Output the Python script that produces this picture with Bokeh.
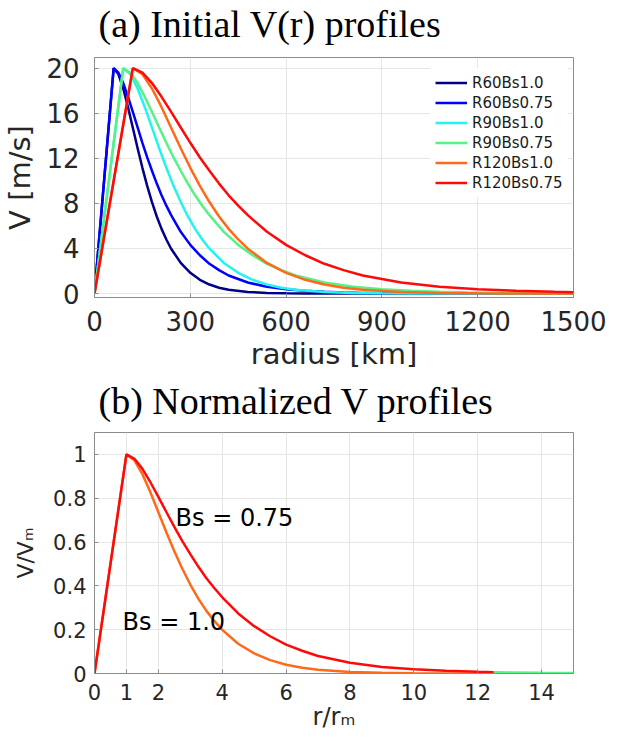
from bokeh.plotting import figure
from bokeh.models import Label, Range1d, FixedTicker, Title
from bokeh.layouts import column
from bokeh.embed import file_html
from bokeh.resources import INLINE

# ---------------- data ----------------
# panel (a): radius [km] and V [m/s]
r60 = [0, 60, 75, 90, 105, 120, 135, 150, 165, 180, 195, 210, 225, 240, 270,
       300, 330, 360, 390, 420, 480, 540, 600, 660, 720, 780, 840, 900, 1200, 1500]
v_r60_bs10 = [0, 20, 19.46, 18.2, 16.54, 14.72, 12.9, 11.16, 9.56, 8.12, 6.84, 5.74, 4.8, 3.98, 2.72,
              1.84, 1.22, 0.8, 0.52, 0.34, 0.14, 0.06, 0.02, 0.01, 0.004, 0.002, 0.001, 0, 0, 0]
v_r60_bs075 = [0, 20, 19.6, 18.68, 17.46, 16.12, 14.74, 13.38, 12.08, 10.9, 9.76, 8.72, 7.8, 6.96, 5.48,
               4.32, 3.4, 2.64, 2.08, 1.6, 0.98, 0.6, 0.38, 0.24, 0.15, 0.1, 0.06, 0.04, 0.005, 0]
r90 = [0, 90, 112.5, 135, 157.5, 180, 202.5, 225, 247.5, 270, 292.5, 315, 337.5, 360, 405,
       450, 495, 540, 585, 630, 720, 810, 900, 990, 1080, 1170, 1260, 1350, 1500]
v_r90_bs10 = [0, 20, 19.46, 18.2, 16.54, 14.72, 12.9, 11.16, 9.56, 8.12, 6.84, 5.74, 4.8, 3.98, 2.72,
              1.84, 1.22, 0.8, 0.52, 0.34, 0.14, 0.06, 0.02, 0.01, 0.004, 0.002, 0.001, 0, 0]
v_r90_bs075 = [0, 20, 19.6, 18.68, 17.46, 16.12, 14.74, 13.38, 12.08, 10.9, 9.76, 8.72, 7.8, 6.96, 5.48,
               4.32, 3.4, 2.64, 2.08, 1.6, 0.98, 0.6, 0.38, 0.24, 0.15, 0.1, 0.06, 0.04, 0.025]
r120 = [0, 120, 150, 180, 210, 240, 270, 300, 330, 360, 390, 420, 450, 480, 540,
        600, 660, 720, 780, 840, 960, 1080, 1200, 1320, 1440, 1500]
v_r120_bs10 = [0, 20, 19.46, 18.2, 16.54, 14.72, 12.9, 11.16, 9.56, 8.12, 6.84, 5.74, 4.8, 3.98, 2.72,
               1.84, 1.22, 0.8, 0.52, 0.34, 0.14, 0.06, 0.02, 0.01, 0.004, 0.003]
v_r120_bs075 = [0, 20, 19.6, 18.68, 17.46, 16.12, 14.74, 13.38, 12.08, 10.9, 9.76, 8.72, 7.8, 6.96, 5.48,
                4.32, 3.4, 2.64, 2.08, 1.6, 0.98, 0.6, 0.38, 0.24, 0.15, 0.12]

series_names = ["R60Bs1.0", "R60Bs0.75", "R90Bs1.0", "R90Bs0.75", "R120Bs1.0", "R120Bs0.75"]
series_colors = ["#000088", "#0000FF", "#22F4F0", "#55F285", "#FF6A1A", "#FF0A0A"]

# panel (b): r/rm and V/Vm
bx = [0, 1, 1.25, 1.5, 1.75, 2, 2.25, 2.5, 2.75, 3, 3.25, 3.5, 3.75, 4, 4.5,
      5, 5.5, 6, 6.5, 7, 8, 9, 10, 11, 12, 12.5]
b_bs10 = [0, 1, 0.973, 0.91, 0.827, 0.736, 0.645, 0.558, 0.478, 0.406, 0.342, 0.287, 0.24, 0.199, 0.136,
          0.092, 0.061, 0.04, 0.026, 0.017, 0.007, 0.003, 0.001, 0.0005, 0.0002, 0.0001]
b_bs075 = [0, 1, 0.98, 0.934, 0.873, 0.806, 0.737, 0.669, 0.604, 0.545, 0.488, 0.436, 0.39, 0.348, 0.274,
           0.216, 0.17, 0.132, 0.104, 0.08, 0.049, 0.03, 0.019, 0.012, 0.0075, 0.006]
bx_tail = [12.5, 13, 14, 15]
b_tail_bs10 = [0.0001, 0.0001, 0, 0]
b_tail_bs075 = [0.006, 0.005, 0.003, 0.002]

a_xticks = [0, 300, 600, 900, 1200, 1500]
a_yticks = [0, 4, 8, 12, 16, 20]
b_xticks = [0, 1, 2, 4, 6, 8, 10, 12, 14]
b_yticks = [0, 0.2, 0.4, 0.6, 0.8, 1]
b_ylabels = {0: "0", 0.2: "0.2", 0.4: "0.4", 0.6: "0.6", 0.8: "0.8", 1: "1"}

SANS = "DejaVu Sans"
SERIF = "Liberation Serif"
FRAME = "#8C8C8C"
GRID = "#E6E6E6"
TXT = "#262626"


def style(p, tick_font, standoff_x, standoff_y, gap):
    p.background_fill_color = "white"
    p.border_fill_color = "white"
    p.outline_line_color = FRAME
    p.outline_line_width = 1
    for ax in p.axis:
        ax.axis_line_color = FRAME
        ax.major_tick_line_color = FRAME
        ax.major_tick_in = 4
        ax.major_tick_out = 0
        ax.minor_tick_line_color = None
        ax.major_label_text_font = SANS
        ax.major_label_text_font_size = tick_font
        ax.major_label_text_color = TXT
        ax.axis_label_text_font = SANS
        ax.axis_label_text_font_style = "normal"
        ax.axis_label_text_color = TXT
    p.xaxis.major_label_standoff = standoff_x
    p.yaxis.major_label_standoff = standoff_y
    p.grid.grid_line_color = GRID
    p.grid.grid_line_width = 1
    p.title.text_font = SERIF
    p.title.text_font_size = "38px"
    p.title.text_font_style = "normal"
    p.title.text_color = "black"
    p.title.align = "left"
    p.title.offset = 4
    p.title.standoff = 0
    # empty spacer between the frame and the title
    p.add_layout(Title(text=" ", text_font_size="1px", standoff=gap), "above")


# ---------------- panel (a) ----------------
pa = figure(width=616, height=377, x_range=Range1d(0, 1500), y_range=Range1d(-0.35, 20.95),
            title="(a) Initial V(r) profiles",
            output_backend="svg", toolbar_location=None,
            min_border_left=85, min_border_right=43, min_border_top=56, min_border_bottom=80)
style(pa, "26px", 13, 15, 10)
pa.xaxis.ticker = FixedTicker(ticks=a_xticks)
pa.yaxis.ticker = FixedTicker(ticks=a_yticks)
pa.xaxis.axis_label = "radius [km]"
pa.yaxis.axis_label = "V [m/s]"
pa.xaxis.axis_label_text_font_size = "29px"
pa.yaxis.axis_label_text_font_size = "29px"
pa.xaxis.axis_label_standoff = 3
pa.yaxis.axis_label_standoff = 6

a_x = [r60, r60, r90, r90, r120, r120]
a_y = [v_r60_bs10, v_r60_bs075, v_r90_bs10, v_r90_bs075, v_r120_bs10, v_r120_bs075]
for xs, ys, name, col in zip(a_x, a_y, series_names, series_colors):
    pa.line(xs, ys, line_color=col, line_width=2.5, legend_label=name)

lg = pa.legend[0]
lg.location = (336, 100)
lg.margin = 0
lg.padding = 5
lg.spacing = 1
lg.glyph_width = 32
lg.glyph_height = 19
lg.label_height = 19
lg.label_standoff = 5
lg.label_text_font = SANS
lg.label_text_font_size = "15px"
lg.label_text_color = "#1A1A1A"
lg.border_line_alpha = 0
lg.background_fill_color = "white"
lg.background_fill_alpha = 1

# ---------------- panel (b) ----------------
pb = figure(width=616, height=365, x_range=Range1d(0, 15), y_range=Range1d(0, 1.1),
            title="(b) Normalized V profiles",
            output_backend="svg", toolbar_location=None,
            min_border_left=85, min_border_right=43, min_border_top=50, min_border_bottom=69)
style(pb, "21px", 10, 8, 8)
pb.xaxis.ticker = FixedTicker(ticks=b_xticks)
pb.yaxis.ticker = FixedTicker(ticks=b_yticks)
pb.yaxis.major_label_overrides = b_ylabels
pb.xaxis.axis_label = "r/r\u2098"
pb.yaxis.axis_label = "V/V\u2098"
pb.xaxis.axis_label_text_font_size = "24px"
pb.yaxis.axis_label_text_font_size = "22px"
pb.xaxis.axis_label_standoff = 0
pb.yaxis.axis_label_standoff = 12

pb.line(bx_tail, b_tail_bs10, line_color=series_colors[2], line_width=2.5)
pb.line(bx_tail, b_tail_bs075, line_color=series_colors[3], line_width=2.5)
pb.line(bx, b_bs10, line_color=series_colors[4], line_width=2.5)
pb.line(bx, b_bs075, line_color=series_colors[5], line_width=2.5)

pb.add_layout(Label(x=2.54, y=0.71, text="Bs = 0.75", text_font=SANS, text_font_size="24px",
                    text_color="black", text_align="left", text_baseline="alphabetic"))
pb.add_layout(Label(x=0.88, y=0.235, text="Bs = 1.0", text_font=SANS, text_font_size="24px",
                    text_color="black", text_align="left", text_baseline="alphabetic"))

layout = column(pa, pb, spacing=0)
open("out.html", "w").write(file_html(layout, INLINE))
